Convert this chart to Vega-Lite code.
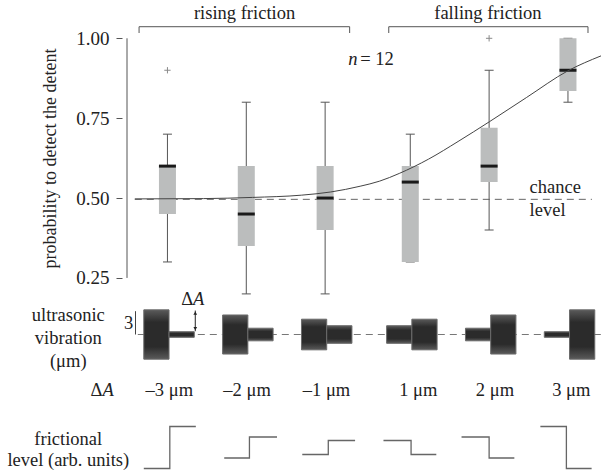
{
"$schema":"https://vega.github.io/schema/vega-lite/v6.json",
"width":484,"height":474,
"autosize":{"type":"none"},
"padding":{"left":122,"top":0,"right":0,"bottom":0},
"background":"white",
"config":{"view":{"stroke":null},"font":"'Liberation Serif', 'Times New Roman', Times, 'DejaVu Serif', serif",
 "axisY":{"domain":false,"grid":false,"ticks":true,"tickSize":6,"tickColor":"#555","tickWidth":1,
    "labelFont":"'Liberation Serif', 'Times New Roman', Times, 'DejaVu Serif', serif","labelFontSize":19,"labelColor":"#222","labelPadding":7,
    "titleFont":"'Liberation Serif', 'Times New Roman', Times, 'DejaVu Serif', serif","titleFontSize":18,"titleFontWeight":"normal","titleColor":"#222",
    "titleX":-67,"titleY":158,"titleAngle":270,"titleBaseline":"alphabetic","titleAlign":"center"},
 "text":{"font":"'Liberation Serif', 'Times New Roman', Times, 'DejaVu Serif', serif","fontSize":18.5,"color":"#222","baseline":"alphabetic"}},
"datasets":{
 "axisline":[{"x":0.487,"y":0.25,"y2":1.0}],
 "brackets":[
  {"g":"r","o":1,"x":0.640,"y":1.0166},{"g":"r","o":2,"x":0.640,"y":1.0363},{"g":"r","o":3,"x":3.311,"y":1.0363},{"g":"r","o":4,"x":3.311,"y":1.0166},
  {"g":"f","o":1,"x":3.807,"y":1.0166},{"g":"f","o":2,"x":3.807,"y":1.0363},{"g":"f","o":3,"x":6.334,"y":1.0363},{"g":"f","o":4,"x":6.334,"y":1.0166}
 ],
 "chance":[{"x":0.586,"x2":6.384,"y":0.496}],
 "boxes":[
  {"x":1,"lo":0.3,"q1":0.45,"med":0.6,"q3":0.6,"hi":0.7},
  {"x":2,"lo":0.2,"q1":0.35,"med":0.45,"q3":0.6,"hi":0.8},
  {"x":3,"lo":0.2,"q1":0.4,"med":0.5,"q3":0.6,"hi":0.8},
  {"x":4.08,"lo":0.3,"q1":0.3,"med":0.55,"q3":0.6,"hi":0.7},
  {"x":5.08,"lo":0.4,"q1":0.55,"med":0.6,"q3":0.72,"hi":0.9},
  {"x":6.08,"lo":0.8,"q1":0.835,"med":0.9,"q3":1.0,"hi":1.0}
 ],
 "outliers":[{"x":1,"y":0.9},{"x":5.08,"y":1.0}],
 "curve":[
  {"x":0.586,"y":0.4973},{"x":1.456,"y":0.4983},{"x":2.077,"y":0.502},{"x":2.698,"y":0.509},
  {"x":3.071,"y":0.519},{"x":3.444,"y":0.537},{"x":3.692,"y":0.553},{"x":3.940,"y":0.577},
  {"x":4.313,"y":0.622},{"x":4.686,"y":0.677},{"x":5.084,"y":0.739},{"x":5.556,"y":0.815},
  {"x":6.077,"y":0.898},{"x":6.499,"y":0.945}
 ],
 "tcenter":[
  {"x":1.978,"y":1.0589,"text":"rising friction"},
  {"x":5.065,"y":1.0589,"text":"falling friction"},
  {"x":1.024,"y":-0.1203,"text":"–3 μm"},
  {"x":2.010,"y":-0.1203,"text":"–2 μm"},
  {"x":3.017,"y":-0.1203,"text":"–1 μm"},
  {"x":4.181,"y":-0.1203,"text":"1 μm"},
  {"x":5.154,"y":-0.1203,"text":"2 μm"},
  {"x":6.122,"y":-0.1203,"text":"3 μm"}
 ],
 "tleft":[
  {"x":3.444,"y":0.9164,"text":"= 12"},
  {"x":5.593,"y":0.5146,"text":"chance"},
  {"x":5.593,"y":0.4444,"text":"level"}
 ],
 "titalic":[
  {"x":3.294,"y":0.9164,"text":"n"},
  {"x":0.176,"y":-0.1203,"text":"A"}
 ],
 "tright":[
  {"x":0.176,"y":-0.1203,"text":"Δ"}
 ],
 "vibdash":[{"x":0.624,"x2":6.499,"y":0}],
 "scalebar":[{"x":0.595,"y":0,"y2":3}],
 "vib":[
  {"x":0.70,"x2":1.02,"y":3.17,"y2":-3.17},{"x":1.02,"x2":1.34,"y":0.36,"y2":-0.36},
  {"x":1.70,"x2":2.02,"y":2.51,"y2":-2.51},{"x":2.02,"x2":2.34,"y":0.81,"y2":-0.81},
  {"x":2.70,"x2":3.02,"y":1.97,"y2":-1.97},{"x":3.02,"x2":3.34,"y":1.13,"y2":-1.13},
  {"x":3.78,"x2":4.10,"y":1.13,"y2":-1.13},{"x":4.10,"x2":4.42,"y":1.97,"y2":-1.97},
  {"x":4.78,"x2":5.10,"y":0.81,"y2":-0.81},{"x":5.10,"x2":5.42,"y":2.51,"y2":-2.51},
  {"x":5.78,"x2":6.10,"y":0.36,"y2":-0.36},{"x":6.10,"x2":6.42,"y":3.17,"y2":-3.17}
 ],
 "arrow":[{"x":1.353,"y":0.42,"y2":3.08}],
 "arrowheads":[{"x":1.353,"y":2.75,"s":"up"},{"x":1.353,"y":0.75,"s":"down"}],
 "vcenter":[
  {"x":-0.258,"y":1.735,"text":"ultrasonic"},
  {"x":-0.258,"y":-1.221,"text":"vibration"},
  {"x":-0.258,"y":-4.18,"text":"(μm)"}
 ],
 "vright":[{"x":0.565,"y":0.67,"text":"3"},{"x":1.3255,"y":3.79,"text":"Δ"}],
 "vitalic":[{"x":1.3255,"y":3.79,"text":"A"}],
 "steps":[
  {"g":"m3","o":1,"x":0.70,"y":-3},{"g":"m3","o":2,"x":1.03,"y":-3},{"g":"m3","o":3,"x":1.03,"y":3},{"g":"m3","o":4,"x":1.36,"y":3},
  {"g":"m2","o":1,"x":1.72,"y":-1.5},{"g":"m2","o":2,"x":2.04,"y":-1.5},{"g":"m2","o":3,"x":2.04,"y":1.5},{"g":"m2","o":4,"x":2.39,"y":1.5},
  {"g":"m1","o":1,"x":2.71,"y":-1},{"g":"m1","o":2,"x":3.04,"y":-1},{"g":"m1","o":3,"x":3.04,"y":1},{"g":"m1","o":4,"x":3.38,"y":1},
  {"g":"p1","o":1,"x":3.74,"y":1},{"g":"p1","o":2,"x":4.09,"y":1},{"g":"p1","o":3,"x":4.09,"y":-1},{"g":"p1","o":4,"x":4.41,"y":-1},
  {"g":"p2","o":1,"x":4.73,"y":1.5},{"g":"p2","o":2,"x":5.08,"y":1.5},{"g":"p2","o":3,"x":5.08,"y":-1.5},{"g":"p2","o":4,"x":5.40,"y":-1.5},
  {"g":"p3","o":1,"x":5.73,"y":3},{"g":"p3","o":2,"x":6.06,"y":3},{"g":"p3","o":3,"x":6.06,"y":-3},{"g":"p3","o":4,"x":6.38,"y":-3}
 ],
 "fcenter":[
  {"x":-0.258,"y":0.357,"text":"frictional"},
  {"x":-0.258,"y":-2.64,"text":"level (arb. units)"}
 ]
},
"encoding":{"x":{"field":"x","type":"quantitative","scale":{"domain":[0.487,6.499]},"axis":null}},
"resolve":{"scale":{"y":"independent"}},
"layer":[
 {
  "encoding":{"y":{"field":"y","type":"quantitative","scale":{"domain":[-0.3637,1.1199]},"title":"probability to detect the detent",
   "axis":{"values":[0.25,0.5,0.75,1.0],"format":".2f","title":"probability to detect the detent"}}},
  "layer":[
   {"data":{"name":"axisline"},"mark":{"type":"rule","color":"#555","strokeWidth":1},"encoding":{"y2":{"field":"y2"}}},
   {"data":{"name":"brackets"},"mark":{"type":"line","color":"#555","strokeWidth":1},"encoding":{"detail":{"field":"g","type":"nominal"},"order":{"field":"o","type":"quantitative"}}},
   {"data":{"name":"chance"},"mark":{"type":"rule","color":"#666","strokeDash":[7,5],"strokeWidth":1},"encoding":{"x2":{"field":"x2"}}},
   {"data":{"name":"boxes"},"mark":{"type":"rule","color":"#555","strokeWidth":1},"encoding":{"y":{"field":"lo","type":"quantitative","title":"probability to detect the detent","axis":{"values":[0.25,0.5,0.75,1.0],"format":".2f","title":"probability to detect the detent"}},"y2":{"field":"hi"}}},
   {"data":{"name":"boxes"},"mark":{"type":"tick","orient":"horizontal","size":9,"thickness":1,"color":"#555","opacity":1},"encoding":{"y":{"field":"hi","type":"quantitative","title":"probability to detect the detent","axis":{"values":[0.25,0.5,0.75,1.0],"format":".2f","title":"probability to detect the detent"}}}},
   {"data":{"name":"boxes"},"mark":{"type":"tick","orient":"horizontal","size":9,"thickness":1,"color":"#555","opacity":1},"encoding":{"y":{"field":"lo","type":"quantitative","title":"probability to detect the detent","axis":{"values":[0.25,0.5,0.75,1.0],"format":".2f","title":"probability to detect the detent"}}}},
   {"data":{"name":"boxes"},"mark":{"type":"bar","width":17,"color":"#bbbdbd"},"encoding":{"y":{"field":"q1","type":"quantitative","title":"probability to detect the detent","axis":{"values":[0.25,0.5,0.75,1.0],"format":".2f","title":"probability to detect the detent"}},"y2":{"field":"q3"}}},
   {"data":{"name":"boxes"},"mark":{"type":"tick","orient":"horizontal","size":17,"thickness":3,"color":"#1a1a1a","opacity":1},"encoding":{"y":{"field":"med","type":"quantitative","title":"probability to detect the detent","axis":{"values":[0.25,0.5,0.75,1.0],"format":".2f","title":"probability to detect the detent"}}}},
   {"data":{"name":"outliers"},"mark":{"type":"point","shape":"M-1,0L1,0M0,-1L0,1","size":40,"filled":false,"color":"#8a8a8a","strokeWidth":1,"opacity":1}},
   {"data":{"name":"curve"},"mark":{"type":"line","color":"#444","strokeWidth":1,"interpolate":"monotone"}},
   {"data":{"name":"tcenter"},"mark":{"type":"text","align":"center"},"encoding":{"text":{"field":"text"}}},
   {"data":{"name":"tleft"},"mark":{"type":"text","align":"left"},"encoding":{"text":{"field":"text"}}},
   {"data":{"name":"titalic"},"mark":{"type":"text","align":"left","fontStyle":"italic"},"encoding":{"text":{"field":"text"}}},
   {"data":{"name":"tright"},"mark":{"type":"text","align":"right"},"encoding":{"text":{"field":"text"}}}
  ]
 },
 {
  "encoding":{"y":{"field":"y","type":"quantitative","scale":{"domain":[-17.93,43.0]},"axis":null}},
  "layer":[
   {"data":{"name":"vibdash"},"mark":{"type":"rule","color":"#777","strokeDash":[7,5],"strokeWidth":1},"encoding":{"x2":{"field":"x2"}}},
   {"data":{"name":"scalebar"},"mark":{"type":"rule","color":"#444","strokeWidth":1},"encoding":{"y2":{"field":"y2"}}},
   {"data":{"name":"vib"},"mark":{"type":"rect","stroke":"#6a6a6a","strokeWidth":1,
     "fill":{"gradient":"linear","x1":0,"y1":0,"x2":0,"y2":1,"stops":[{"offset":0,"color":"#5a5a5a"},{"offset":0.25,"color":"#2b2b2b"},{"offset":0.75,"color":"#2b2b2b"},{"offset":1,"color":"#5a5a5a"}]}},
     "encoding":{"x2":{"field":"x2"},"y2":{"field":"y2"}}},
   {"data":{"name":"arrow"},"mark":{"type":"rule","color":"#222","strokeWidth":1},"encoding":{"y2":{"field":"y2"}}},
   {"data":{"name":"arrowheads"},"mark":{"type":"point","filled":true,"size":14,"color":"#222","opacity":1},"encoding":{"shape":{"field":"s","type":"nominal","scale":{"domain":["up","down"],"range":["triangle-up","triangle-down"]},"legend":null}}},
   {"data":{"name":"vcenter"},"mark":{"type":"text","align":"center"},"encoding":{"text":{"field":"text"}}},
   {"data":{"name":"vright"},"mark":{"type":"text","align":"right"},"encoding":{"text":{"field":"text"}}},
   {"data":{"name":"vitalic"},"mark":{"type":"text","align":"left","fontStyle":"italic"},"encoding":{"text":{"field":"text"}}}
  ]
 },
 {
  "encoding":{"y":{"field":"y","type":"quantitative","scale":{"domain":[-3.786,63.93]},"axis":null}},
  "layer":[
   {"data":{"name":"steps"},"mark":{"type":"line","color":"#666","strokeWidth":1.3},"encoding":{"detail":{"field":"g","type":"nominal"},"order":{"field":"o","type":"quantitative"}}},
   {"data":{"name":"fcenter"},"mark":{"type":"text","align":"center"},"encoding":{"text":{"field":"text"}}}
  ]
 }
]
}
